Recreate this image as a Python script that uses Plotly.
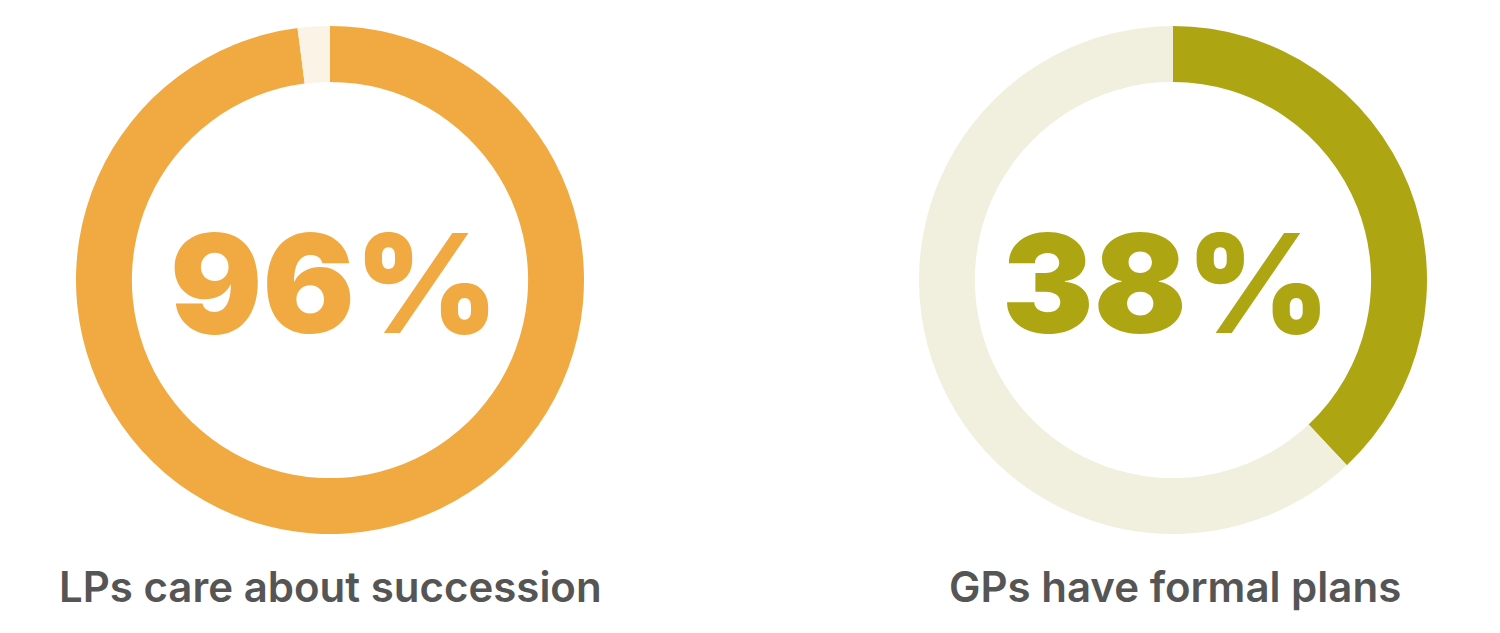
import plotly.graph_objects as go

# Data
charts = ['LPs care about succession', 'GPs have formal plans']
slice_labels = ['Yes', 'No']
lp_values = [96, 2]
gp_values = [38, 62]
center_texts = ['96%', '38%']

# Colours
ORANGE = '#F0AA41'
ORANGE_LIGHT = '#FBF3E5'
OLIVE = '#ADA512'
OLIVE_LIGHT = '#F1F0DF'
GRAY_TEXT = '#555555'

W, H = 1500, 633
OFF = 8  # page body margin

def px_x(v):
    return (v - OFF) / W

def px_y(v):
    return (H - (v - OFF)) / H

fig = go.Figure()

# donut domains (paper coords)
domains = [
    dict(x=[px_x(76), px_x(584)], y=[px_y(534), px_y(26)]),
    dict(x=[px_x(919), px_x(1427)], y=[px_y(534), px_y(26)]),
]
series = [lp_values, gp_values]
palettes = [[ORANGE, ORANGE_LIGHT], [OLIVE, OLIVE_LIGHT]]
main_colors = [ORANGE, OLIVE]

for i in range(2):
    fig.add_trace(go.Pie(
        labels=slice_labels,
        values=series[i],
        hole=0.78,
        sort=False,
        direction='clockwise',
        rotation=0,
        marker=dict(colors=palettes[i], line=dict(width=0)),
        textinfo='none',
        hoverinfo='label+value',
        domain=domains[i],
        showlegend=False,
    ))

centers_x = [334, 1166]
labels_x = [330, 1175]
for i in range(2):
    fig.add_annotation(
        x=px_x(centers_x[i]), y=px_y(283), xref='paper', yref='paper',
        text=center_texts[i], showarrow=False,
        font=dict(family='Inter', size=137, color=main_colors[i], weight=900),
        xanchor='center', yanchor='middle',
    )
    fig.add_annotation(
        x=px_x(labels_x[i]), y=px_y(586), xref='paper', yref='paper',
        text=charts[i], showarrow=False,
        font=dict(family='Inter', size=42, color=GRAY_TEXT, weight=600),
        xanchor='center', yanchor='middle',
    )

fig.update_layout(
    width=W, height=H,
    margin=dict(l=0, r=0, t=0, b=0),
    paper_bgcolor='white',
    plot_bgcolor='white',
)

fig.write_html('out.html')
